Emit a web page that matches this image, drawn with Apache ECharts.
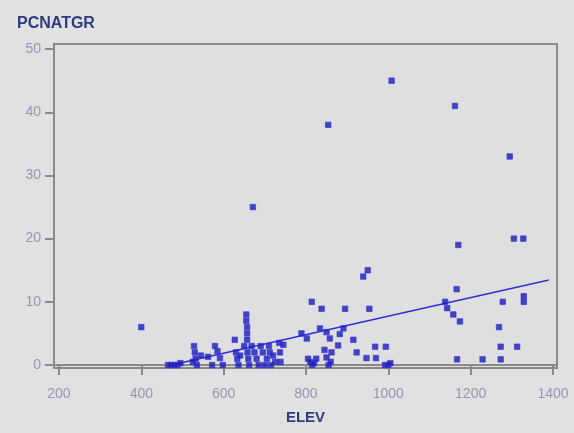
<!DOCTYPE html>
<html>
<head>
<meta charset="utf-8">
<script src="https://cdn.jsdelivr.net/npm/echarts@6/dist/echarts.min.js"></script>
<style>
html,body{margin:0;padding:0;background:#e1e1e1;}
#chart{width:574px;height:433px;}
</style>
</head>
<body>
<div id="chart"></div>
<script>
// Data (ELEV vs PCNATGR)
var elev = [
  400,
  465, 472, 480, 488, 495,
  528, 530, 532, 535, 525,
  545, 562, 572, 579, 585, 591, 598,
  627, 630, 633, 636, 640,
  650, 655, 655, 657, 657, 657, 658, 660, 662,
  671,
  668, 675, 680, 685, 690, 695, 700, 705, 710, 712, 715, 720, 725,
  735, 737, 738, 745,
  789, 802, 805, 810, 815, 820, 825, 814, 834, 838, 845, 850, 850, 855, 858, 860, 862, 854,
  878, 882, 891, 895, 915, 923, 939, 950, 947, 954, 968, 970, 994, 992, 1000, 1005, 1008,
  1138, 1143, 1158, 1166, 1174, 1162, 1170, 1167,
  1229, 1269, 1273, 1273, 1278, 1295, 1305, 1328, 1313, 1329, 1329
];
var pcnatgr = [
  6,
  0, 0, 0, 0, 0.3,
  3, 2, 1, 0, 0.5,
  1.5, 1.3, 0, 3, 2.2, 1.1, 0,
  4, 2, 1, 0, 1.5,
  3, 8, 7, 6, 5, 4, 2, 1, 0,
  25,
  3, 2, 1, 0, 3, 2, 0, 1, 3, 2, 0, 1.5, 0.5,
  3.5, 2, 0.5, 3.2,
  5, 4.2, 1, 0.5, 0, 0.3, 1, 10, 5.8, 8.9, 2.4, 5.2, 1.2, 0, 4.2, 0.5, 2, 38,
  3.1, 4.9, 5.8, 8.9, 4, 2, 14, 15, 1.1, 8.9, 2.9, 1.1, 2.9, 0, 0, 0.3, 45,
  10, 9, 8, 12, 6.9, 41, 19, 0.9,
  0.9, 6, 2.9, 0.9, 10, 33, 20, 20, 2.9, 10.9, 10
];
// Fitted line end points
var fitX = [465, 1390];
var fitY = [-0.1, 13.45];
var xTicks = [200, 400, 600, 800, 1000, 1200, 1400];
var yTicks = [0, 10, 20, 30, 40, 50];

var pts = elev.map(function (x, i) { return [x, pcnatgr[i]]; });
var fit = fitX.map(function (x, i) { return [x, fitY[i]]; });

var chart = echarts.init(document.getElementById('chart'), null, {renderer: 'canvas'});
var labelColor = '#9297b3';
var axisColor = '#8a8a8a';
var font = 'Liberation Sans, Arial, sans-serif';
chart.setOption({
  backgroundColor: '#e1e1e1',
  animation: false,
  title: {
    text: 'PCNATGR',
    left: 12, top: 11,
    textStyle: {fontFamily: font, fontSize: 16, fontWeight: 'bold', color: '#2c3c7c'}
  },
  grid: {
    left: 54, top: 44, right: 17, bottom: 65,
    show: true, backgroundColor: '#dfdfdf', borderColor: axisColor, borderWidth: 2
  },
  xAxis: {
    type: 'value',
    min: 187.9, max: 1409.8,
    name: 'ELEV', nameLocation: 'middle', nameGap: 42,
    nameTextStyle: {fontFamily: font, fontSize: 15, fontWeight: 'bold', color: '#2c3c7c'},
    axisLine: {show: true, lineStyle: {color: axisColor, width: 2}},
    axisTick: {show: true, length: 10, lineStyle: {color: axisColor, width: 2}, customValues: xTicks},
    axisLabel: {customValues: xTicks, margin: 19, color: labelColor, fontSize: 14, fontFamily: font,
      formatter: function (v) { return String(v); }},
    splitLine: {show: false}
  },
  yAxis: {
    type: 'value',
    min: -0.47, max: 50.8,
    axisLine: {show: true, lineStyle: {color: axisColor, width: 2}},
    axisTick: {show: true, length: 9, lineStyle: {color: axisColor, width: 2}, customValues: yTicks},
    axisLabel: {customValues: yTicks, margin: 13, color: labelColor, fontSize: 14, fontFamily: font,
      formatter: function (v) { return String(v); }},
    splitLine: {show: false}
  },
  series: [
    {
      type: 'line',
      data: fit,
      symbol: 'none',
      lineStyle: {color: '#2f2fd6', width: 1.6},
      z: 2
    },
    {
      type: 'scatter',
      data: pts,
      symbol: 'rect',
      symbolSize: 5.5,
      itemStyle: {color: '#1c1cb0', borderColor: '#3535e8', borderWidth: 0.8},
      z: 3
    }
  ]
});
</script>
</body>
</html>
